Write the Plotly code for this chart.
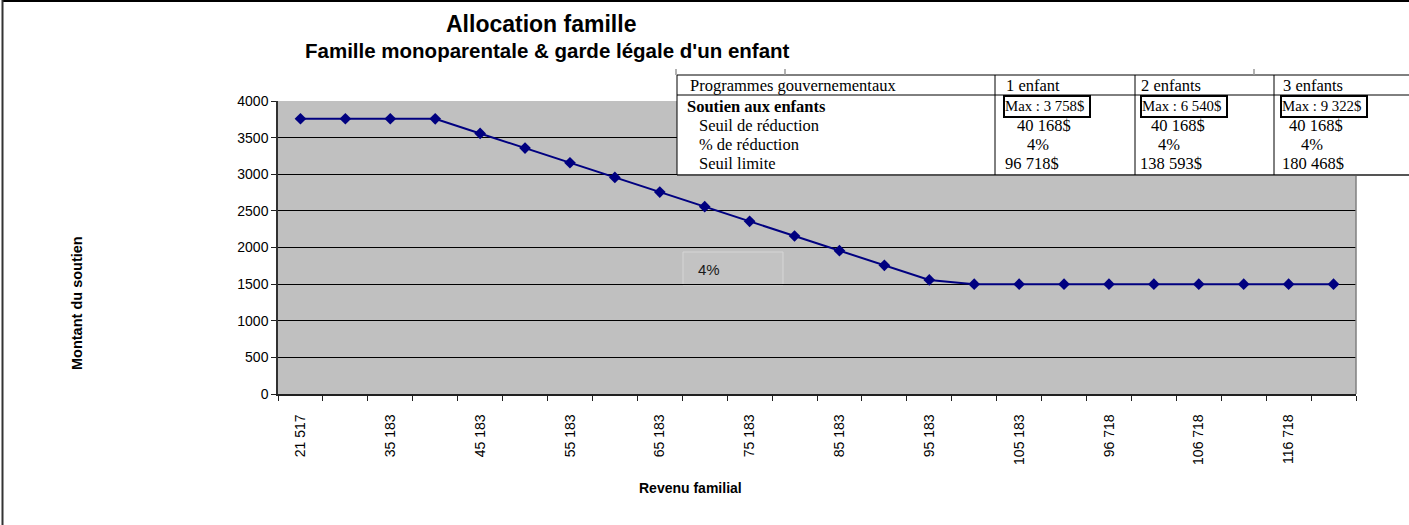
import plotly.graph_objects as go

# ---------------- data ----------------
revenus = ["21 517", "30 183", "35 183", "40 183", "45 183", "50 183", "55 183",
           "60 183", "65 183", "70 183", "75 183", "80 183", "85 183", "90 183",
           "95 183", "100 183", "105 183", "110 183", "96 718", "101 718",
           "106 718", "111 718", "116 718", "121 718"]
soutien = [3758, 3758, 3758, 3757, 3557, 3357, 3157, 2957, 2757, 2557, 2357, 2157,
           1957, 1757, 1557, 1500, 1500, 1500, 1500, 1500, 1500, 1500, 1500, 1500]

titre = "Allocation famille"
sous_titre = "Famille monoparentale & garde légale d'un enfant"
titre_y = "Montant du soutien"
titre_x = "Revenu familial"
note_pct = "4%"

table_entetes = ["Programmes gouvernementaux", "1 enfant", "2 enfants", "3 enfants"]
table_lignes = ["Soutien aux enfants", "Seuil de réduction", "% de réduction", "Seuil limite"]
table_1 = ["Max : 3 758$", "40 168$", "4%", "96 718$"]
table_2 = ["Max : 6 540$", "40 168$", "4%", "138 593$"]
table_3 = ["Max : 9 322$", "40 168$", "4%", "180 468$"]

# ---------------- geometry helpers (pixel -> paper) ----------------
W, H = 1409, 525
L, R, T, B = 278, 1356, 101, 394


def px(x):
    return (x - L) / (R - L)


def py(y):
    return (B - y) / (B - T)


n = len(revenus)
idx = list(range(n))

fig = go.Figure()
fig.add_trace(go.Scatter(
    x=idx, y=soutien, mode="lines+markers",
    line=dict(color="#000080", width=2),
    marker=dict(symbol="diamond", size=9, color="#000080"),
    hoverinfo="skip", showlegend=False,
))

tick_font = dict(family="Liberation Sans, Arial", size=14, color="#000000")

fig.update_layout(
    width=W, height=H,
    margin=dict(l=L, r=W - R, t=T, b=H - B, pad=0),
    paper_bgcolor="#FFFFFF",
    plot_bgcolor="#C0C0C0",
    showlegend=False,
    xaxis=dict(
        range=[-0.5, n - 0.5],
        tickmode="array",
        tickvals=idx[::2],
        ticktext=revenus[::2],
        tickangle=-90,
        ticks="", ticklen=0,
        ticklabelstandoff=13,
        showgrid=False, zeroline=False,
        showline=True, linecolor="#202020", linewidth=1.5,
        tickfont=tick_font,
        minor=dict(tickmode="array", tickvals=[i - 0.5 for i in range(n + 1)],
                   ticks="outside", ticklen=5, tickcolor="#202020", tickwidth=1,
                   showgrid=False),
        fixedrange=True,
    ),
    yaxis=dict(
        range=[0, 4000], dtick=500, tick0=0,
        ticks="outside", ticklen=5, tickcolor="#202020",
        showgrid=True, gridcolor="#000000", gridwidth=1,
        zeroline=False,
        showline=True, linecolor="#303030", linewidth=1.5,
        tickfont=tick_font,
        fixedrange=True,
    ),
)

shapes = []
annotations = []

# right edge of plot area
shapes.append(dict(type="line", xref="paper", yref="paper", x0=1, x1=1, y0=0, y1=1,
                   line=dict(color="#808080", width=1.5)))

# outer frame (top & left)
shapes.append(dict(type="line", xref="paper", yref="paper", x0=px(2), x1=px(W), y0=py(1), y1=py(1),
                   line=dict(color="#000000", width=2)))
shapes.append(dict(type="line", xref="paper", yref="paper", x0=px(2.5), x1=px(2.5), y0=py(0), y1=py(H),
                   line=dict(color="#333333", width=2)))

# 4% box
shapes.append(dict(type="rect", xref="paper", yref="paper", layer="below",
                   x0=px(683), x1=px(783), y0=py(285), y1=py(252),
                   line=dict(color="#D6D6D6", width=1), fillcolor="#C3C3C3"))
annotations.append(dict(text=note_pct, xref="paper", yref="paper", x=px(696), y=py(269),
                        xanchor="left", yanchor="middle", showarrow=False,
                        font=dict(family="Liberation Sans, Arial", size=15, color="#1a1a1a")))

# ---------------- table overlay ----------------
tx0, tx1, ty0, ty1 = 677, W, 75, 175
col_x = [677, 995, 1135, 1274]
shapes.append(dict(type="rect", xref="paper", yref="paper", layer="above",
                   x0=px(tx0), x1=px(tx1), y0=py(ty1), y1=py(ty0),
                   line=dict(width=0), fillcolor="#FFFFFF"))


def hline(y, x0, x1, color="#000000", width=1):
    shapes.append(dict(type="line", xref="paper", yref="paper", layer="above",
                       x0=px(x0), x1=px(x1), y0=py(y), y1=py(y), line=dict(color=color, width=width)))


def vline(x, y0, y1, color="#000000", width=1):
    shapes.append(dict(type="line", xref="paper", yref="paper", layer="above",
                       x0=px(x), x1=px(x), y0=py(y0), y1=py(y1), line=dict(color=color, width=width)))


hline(ty0, tx0, tx1)
hline(95, tx0, tx1)
hline(ty1, tx0, tx1, color="#555555", width=2)
for cx in col_x:
    vline(cx, ty0, ty1)
# small marks above table
for mx in (676, 785, 1254):
    vline(mx, 69, 75, color="#999999", width=1.5)

# Max boxes
for bx in (1004, 1141, 1281):
    shapes.append(dict(type="rect", xref="paper", yref="paper", layer="above",
                       x0=px(bx), x1=px(bx + 86), y0=py(117), y1=py(96),
                       line=dict(color="#000000", width=2), fillcolor="rgba(0,0,0,0)"))

serif = "Liberation Serif, Times New Roman, serif"


def ttext(s, x, y, bold=False, size=17):
    annotations.append(dict(text=("<b>%s</b>" % s) if bold else s, xref="paper", yref="paper",
                            x=px(x), y=py(y), xanchor="left", yanchor="middle", showarrow=False,
                            font=dict(family=serif, size=size, color="#000000")))


row_y = [86, 106, 125, 144, 163]
# header row
for s, x in zip(table_entetes, [688, 1004, 1139, 1281]):
    ttext(s, x, row_y[0], size=16.5)
# row labels
ttext(table_lignes[0], 685, row_y[1], bold=True, size=16.5)
for s, y in zip(table_lignes[1:], row_y[2:]):
    ttext(s, 697, y, size=16.5)
# column values
col_offsets = [
    (table_1, [1003, 1015, 1025, 1003]),
    (table_2, [1140, 1149, 1156, 1138]),
    (table_3, [1280, 1287, 1299, 1280]),
]
for vals, xs in col_offsets:
    for s, x, y in zip(vals, xs, row_y[1:]):
        ttext(s, x, y, size=14.8 if s.startswith("Max") else 16.5)

# ---------------- titles ----------------
sans = "Liberation Sans, Arial"
annotations.append(dict(text="<b>%s</b>" % titre, xref="paper", yref="paper", x=px(541), y=py(24),
                        xanchor="center", yanchor="middle", showarrow=False,
                        font=dict(family=sans, size=23, color="#000000")))
annotations.append(dict(text="<b>%s</b>" % sous_titre, xref="paper", yref="paper", x=px(547), y=py(51),
                        xanchor="center", yanchor="middle", showarrow=False,
                        font=dict(family=sans, size=20.5, color="#000000")))
annotations.append(dict(text="<b>%s</b>" % titre_y, xref="paper", yref="paper", x=px(77), y=py(303),
                        xanchor="center", yanchor="middle", showarrow=False, textangle=-90,
                        font=dict(family=sans, size=14.5, color="#000000")))
annotations.append(dict(text="<b>%s</b>" % titre_x, xref="paper", yref="paper", x=px(690), y=py(488),
                        xanchor="center", yanchor="middle", showarrow=False,
                        font=dict(family=sans, size=14, color="#000000")))

fig.update_layout(shapes=shapes, annotations=annotations)

fig.write_html("out.html", config={"displayModeBar": False},
               post_script="document.body.style.margin='0';document.body.style.overflow='hidden';")
